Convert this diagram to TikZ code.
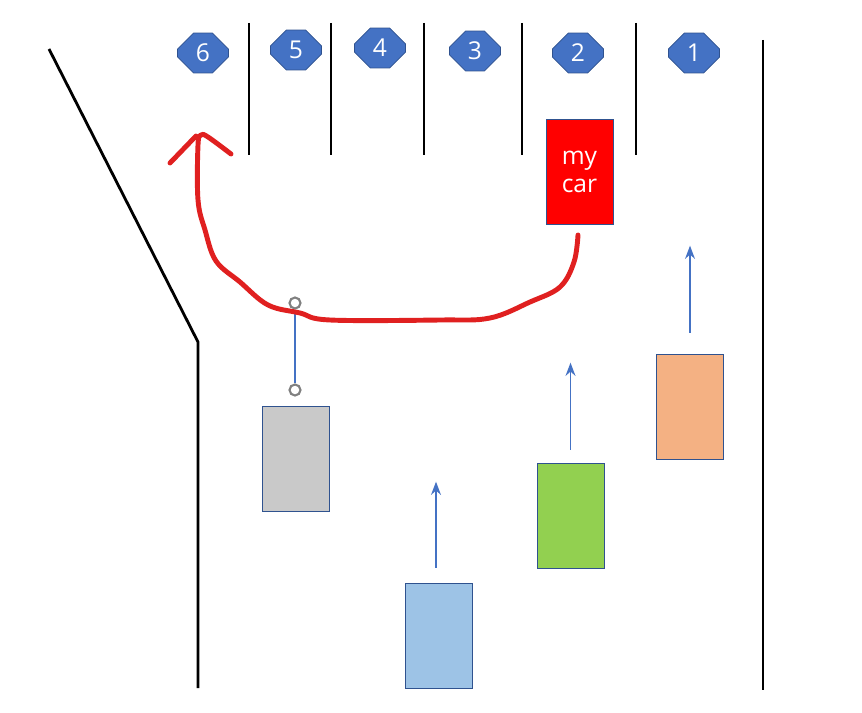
\documentclass[tikz,border=0pt]{standalone}
\usepackage{fontspec}
\setmainfont{Open Sans}
\usepackage{tikz}
\usetikzlibrary{arrows.meta, positioning, shapes.misc}
\definecolor{lotBlue}{HTML}{4472C4}
\definecolor{lotEdge}{HTML}{2F528F}
\definecolor{lotRed}{HTML}{E02020}
\definecolor{carGrey}{HTML}{C9C9C9}
\definecolor{carBlue}{HTML}{9DC3E6}
\definecolor{carGreen}{HTML}{92D050}
\definecolor{carOrange}{HTML}{F4B183}

\begin{document}
\begin{tikzpicture}[x=0.02cm, y=-0.02cm, >=Stealth,
  spot/.style={chamfered rectangle, chamfered rectangle xsep=0.22cm, chamfered rectangle ysep=0.22cm,
    fill=lotBlue, draw=lotEdge, minimum width=1.02cm, minimum height=0.8cm, inner sep=0pt,
    text=white, font=\fontsize{14}{17}\selectfont},
  car/.style={draw=lotEdge, thin, minimum width=1.34cm, minimum height=2.1cm, inner sep=0pt},
  wall/.style={line width=1.6pt, black},
  move/.style={->, lotBlue, line width=1pt, shorten >=0pt},
  handle/.style={circle, draw=gray, fill=white, line width=1.2pt, minimum size=0.22cm, inner sep=0pt}]
  \useasboundingbox (0,0) rectangle (862,713);

  % Parking spot numbers
  \node[spot] (s6) at (203,53) {6};
  \node[spot] (s5) at (296,50) {5};
  \node[spot] (s4) at (380,48) {4};
  \node[spot] (s3) at (475,51) {3};
  \node[spot] (s2) at (578,53) {2};
  \node[spot] (s1) at (694,53) {1};

  % Dividers and walls
  \foreach \x in {249,331,424,522,636}
    \draw[wall] (\x,23) -- (\x,155);
  \draw[wall] (763,40) -- (763,690);
  \draw[wall] (49,49) -- (198,342) -- (198,688);

  % Cars
  \node[car, fill=red, text=white, font=\fontsize{14}{17}\selectfont, align=center] (mycar) at (579.5,171.5) {my\\[-1pt]car};
  \node[car, fill=carGrey] (grey) at (295.5,458.5) {};
  \node[car, fill=carBlue] (blue) at (439,635.5) {};
  \node[car, fill=carGreen] (green) at (570.5,515.5) {};
  \node[car, fill=carOrange] (orange) at (690,406.5) {};

  % Driving directions
  \draw[move] ([xshift=-0.06cm, yshift=0.3cm]blue.north) -- ([xshift=-0.06cm, yshift=2.02cm]blue.north);
  \draw[move] ([yshift=0.26cm]green.north) -- ([yshift=2cm]green.north);
  \draw[move] ([yshift=0.42cm]orange.north) -- ([yshift=2.16cm]orange.north);

  % Grey car pulling out
  \node[handle] (htop) at (295,303) {};
  \node[handle] (hbot) at (295,390) {};
  \draw[lotBlue, line width=1pt] (htop) -- (hbot);

  % My route out
  \draw[lotRed, line width=2.8pt, line cap=round, line join=round] plot[smooth, tension=0.6] coordinates {
    (578,235) (574,262) (560,287) (530,302) (490,318) (440,320) (330,320) (300,313)
    (268,305) (240,282) (216,261) (205,230) (198,200) (198,145) (201,135) (208,137) (231,154)};
  \draw[lotRed, line width=2.8pt, line cap=round] (170,163) -- (196,136);
\end{tikzpicture}
\end{document}
